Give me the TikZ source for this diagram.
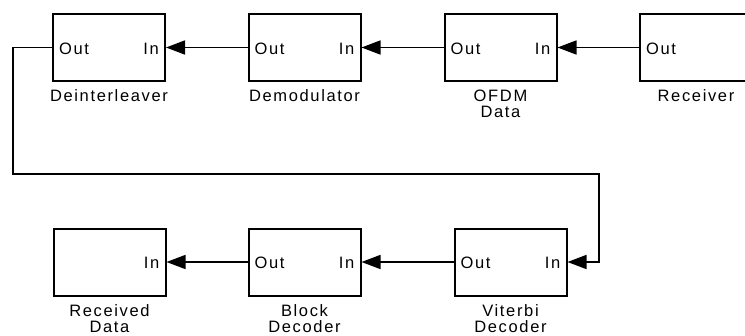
\documentclass[tikz,border=0pt]{standalone}
\usepackage{fontspec}
\usetikzlibrary{arrows.meta}
\newfontfamily\blockfont{Liberation Sans}[LetterSpace=10]
\definecolor{blockline}{RGB}{0,0,0}

\begin{document}
\begin{tikzpicture}[
  x=1pt, y=-1pt,
  font=\blockfont\fontsize{16.5}{16}\selectfont,
  block/.style={
    draw=blockline, line width=2pt, fill=white,
    minimum width=112pt, minimum height=67pt, inner sep=0pt
  },
  blockname/.style={
    draw=none, fill=none, align=center, inner sep=0pt
  },
  port/.style={draw=none, inner sep=0pt},
  edge/.style={
    draw=blockline, line width=1.6pt,
    -{Triangle[length=19pt,width=14pt]}
  },
  label distance=7.5pt,
]
\useasboundingbox (0,0) rectangle (745,335);
\clip (0,0) rectangle (745,335);

% ---- Blocks (name given as a label below) ----
\node (deint)    at (109,  47.5) [block, label={[blockname]below:Deinterleaver}] {};
\node (demod)    at (304.5,47.5) [block, label={[blockname]below:Demodulator}] {};
\node (ofdm)     at (500.5,47.5) [block, label={[blockname]below:{OFDM\\Data}}] {};
\node (receiver) at (696,  47.5) [block, label={[blockname]below:Receiver}] {};

\node (rxdata)   at (109.5,262)  [block, label={[blockname]below:{Received\\Data}}] {};
\node (block)    at (304.5,262)  [block, label={[blockname]below:{Block\\Decoder}}] {};
\node (viterbi)  at (510.5,262)  [block, label={[blockname]below:{Viterbi\\Decoder}}] {};

% ---- Ports ----
\foreach \b in {deint, demod, ofdm, receiver, block, viterbi}
  \node[port, anchor=west] (\b-out) at ([xshift=7pt,yshift=-1pt]\b.west) {Out};
\foreach \b in {deint, demod, ofdm, rxdata, block, viterbi}
  \node[port, anchor=east] (\b-in) at ([xshift=-7pt,yshift=-1pt]\b.east) {In};

% ---- Edges ----
\foreach \s/\t in {demod/deint, ofdm/demod, receiver/ofdm,
                   viterbi/block, block/rxdata}
  \draw[edge] (\s.west) -- (\t.east);

\coordinate (loopA) at (13,174);
\coordinate (loopB) at (599,174);
\draw[edge] (deint.west) -| (loopA) -- (loopB) |- (viterbi.east);

\end{tikzpicture}
\end{document}
